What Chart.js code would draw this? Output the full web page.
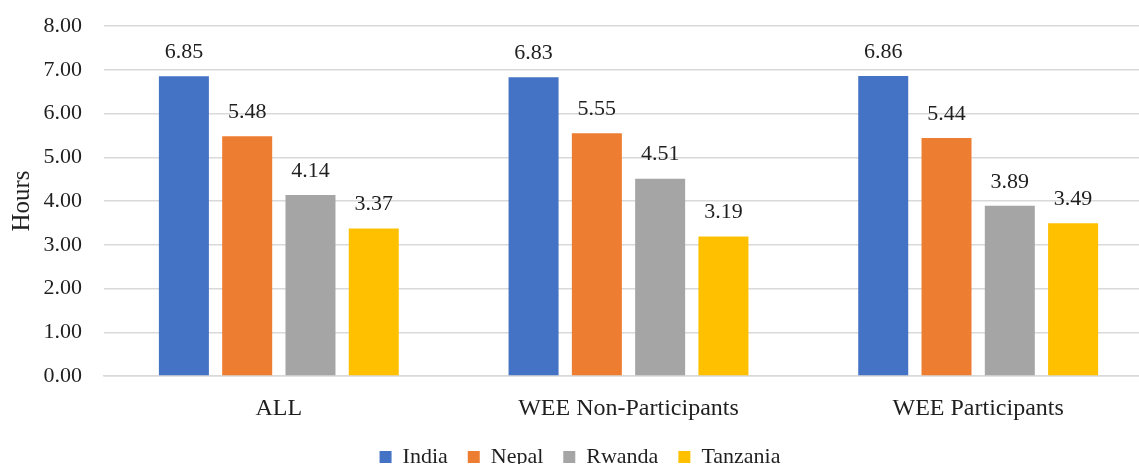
<!DOCTYPE html>
<html>
<head>
<meta charset="utf-8">
<script src="https://cdn.jsdelivr.net/npm/chart.js@4"></script>
<style>
    html, body { margin: 0; padding: 0; background: #fff; overflow: hidden; }
    #wrap { width: 1160px; height: 478px; }
</style>
</head>
<body>
<div id="wrap"><canvas id="hoursChart"></canvas></div>
<script>
// Hours by country and group
const categories = ['ALL', 'WEE Non-Participants', 'WEE Participants'];
const countries = ['India', 'Nepal', 'Rwanda', 'Tanzania'];
const india = [6.85, 6.83, 6.86];
const nepal = [5.48, 5.55, 5.44];
const rwanda = [4.14, 4.51, 3.89];
const tanzania = [3.37, 3.19, 3.49];
const colors = ['#4472C4', '#ED7D31', '#A5A5A5', '#FFC000'];

const FONT = "'Liberation Serif', 'DejaVu Serif', serif";
const TEXT = '#1f1f1f';

// draws the value above each bar
const valueLabels = {
    id: 'valueLabels',
    afterDatasetsDraw(chart) {
        const ctx = chart.ctx;
        ctx.save();
        ctx.font = `22px ${FONT}`;
        ctx.fillStyle = TEXT;
        ctx.textAlign = 'center';
        ctx.textBaseline = 'middle';
        chart.data.datasets.forEach((ds, i) => {
            const meta = chart.getDatasetMeta(i);
            meta.data.forEach((bar, j) => {
                ctx.fillText(ds.data[j].toFixed(2), bar.x, bar.y - 24);
            });
        });
        ctx.restore();
    }
};

const seriesValues = [india, nepal, rwanda, tanzania];

new Chart(document.getElementById('hoursChart'), {
    type: 'bar',
    data: {
        labels: categories,
        datasets: countries.map((name, i) => ({
            label: name,
            data: seriesValues[i],
            backgroundColor: colors[i],
            borderWidth: 0,
            categoryPercentage: 0.724,
            barPercentage: 0.79
        }))
    },
    options: {
        responsive: true,
        maintainAspectRatio: false,
        animation: false,
        layout: { padding: { left: 7, right: 7, top: 26, bottom: 0 } },
        plugins: {
            legend: {
                position: 'bottom',
                labels: {
                    boxWidth: 12,
                    boxHeight: 12,
                    padding: 20,
                    color: TEXT,
                    font: { family: FONT, size: 22 }
                }
            },
            tooltip: { enabled: false }
        },
        scales: {
            x: {
                afterFit(scale) { scale.height = 50; },
                grid: { display: false, drawTicks: false },
                border: { display: true, color: '#d9d9d9', width: 1.5 },
                ticks: { color: TEXT, padding: 18, font: { family: FONT, size: 24 } }
            },
            y: {
                min: 0,
                max: 8,
                afterFit(scale) {
                    scale.width = 97;
                    scale.paddingTop = 0;
                    scale.paddingBottom = 0;
                },
                ticks: {
                    stepSize: 1,
                    padding: 22,
                    color: TEXT,
                    font: { family: FONT, size: 22 },
                    callback: v => v.toFixed(2)
                },
                grid: { color: '#d9d9d9', lineWidth: 1.5, drawTicks: false },
                border: { display: false },
                title: {
                    display: true,
                    text: 'Hours',
                    color: TEXT,
                    font: { family: FONT, size: 25 },
                    padding: { top: 0, bottom: 0 }
                }
            }
        }
    },
    plugins: [valueLabels]
});
</script>
</body>
</html>
